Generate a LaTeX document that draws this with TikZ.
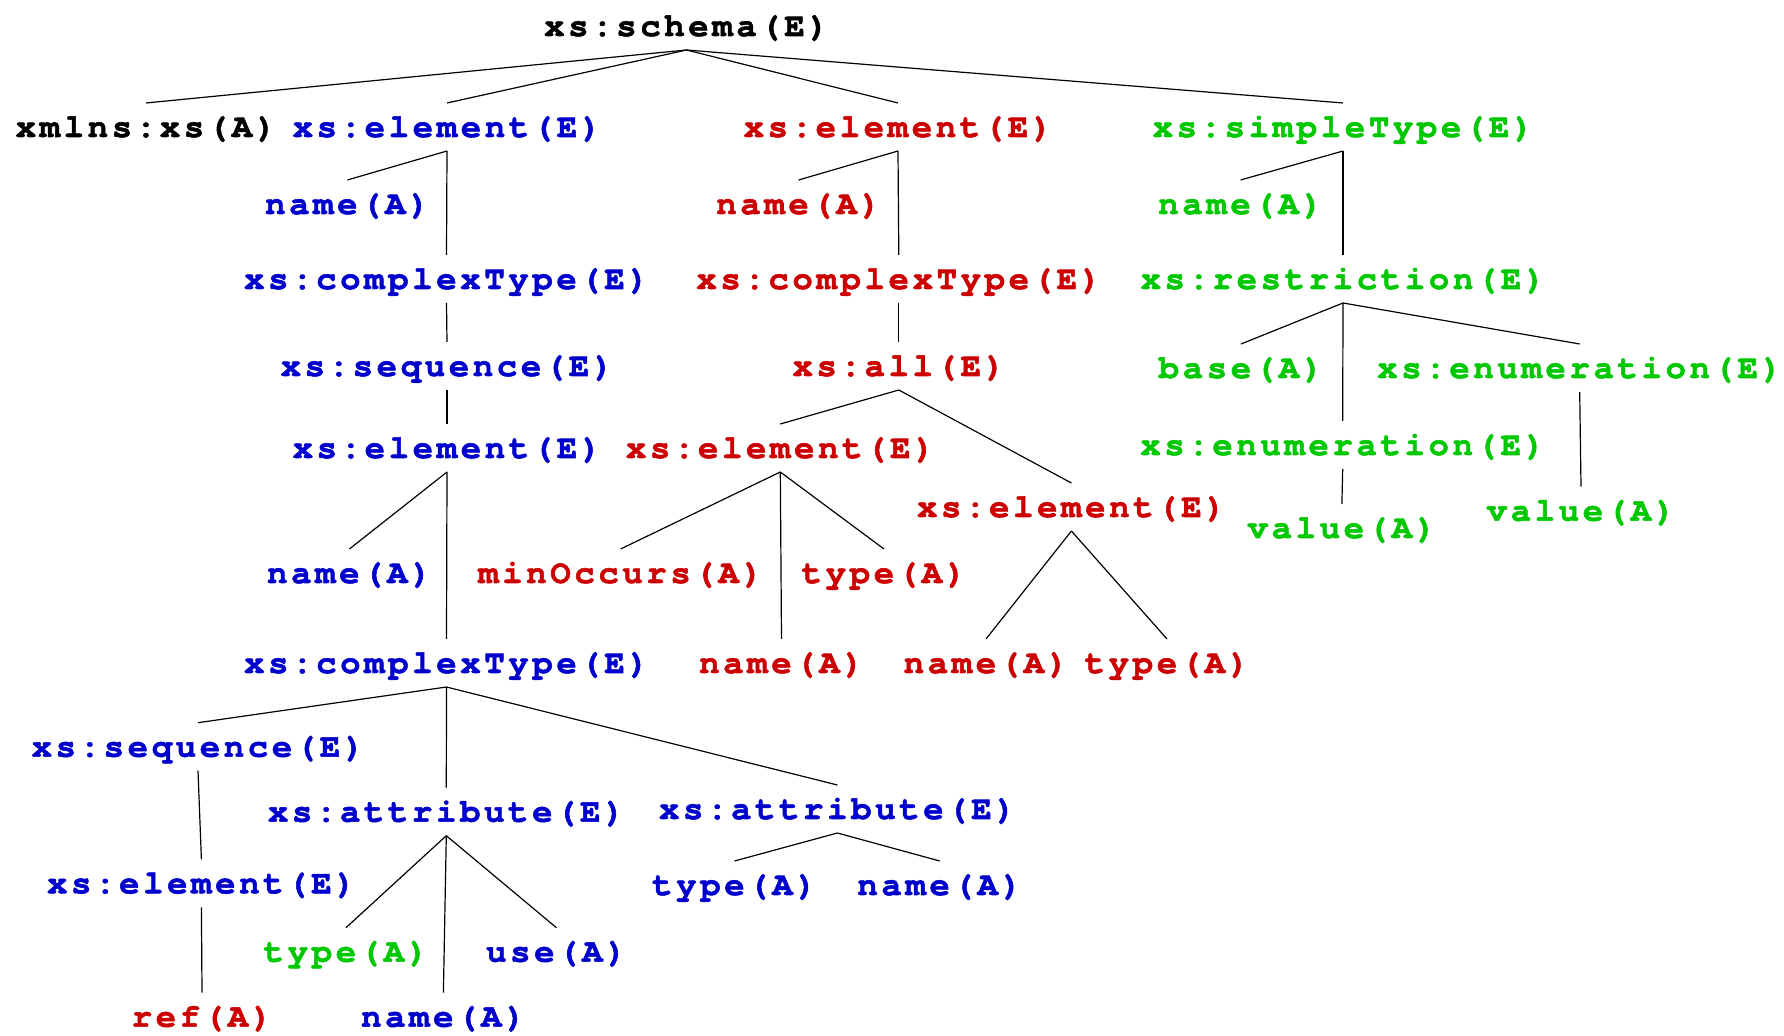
\documentclass[tikz,border=0pt]{standalone}
\usepackage{fontspec}
\newfontfamily\lab[LetterSpace=11,FakeBold=1.6,FakeStretch=1.03]{texgyrecursor-bold.otf}
\definecolor{cblue}{RGB}{0,0,204}
\definecolor{cred}{RGB}{204,0,0}
\definecolor{cgreen}{RGB}{0,200,0}
\begin{document}
\begin{tikzpicture}[x=0.5pt,y=-0.5pt,
  lbl/.style={font=\fontsize{16.5}{18}\lab, inner sep=0pt, outer sep=0pt,
    text height=17pt, text depth=7pt, anchor=base},
  bl/.style={lbl, text=cblue},
  rd/.style={lbl, text=cred},
  gr/.style={lbl, text=cgreen},
  bk/.style={lbl, text=black},
  edge/.style={draw=black, line width=0.6pt}]
\useasboundingbox (0,0) rectangle (1784,1036);
\fill[white] (0,0) rectangle (1784,1036);
% nodes
\node[bk] (schema) at (686.5,36) {xs:schema(E)};
\node[bk] (xmlns) at (146,137) {xmlns:xs(A)};
\node[bl] (el1) at (447,137) {xs:element(E)};
\node[rd] (el2) at (898,137) {xs:element(E)};
\node[gr] (st) at (1343,137) {xs:simpleType(E)};
\node[bl] (n1) at (347.4,214) {name(A)};
\node[rd] (n2) at (798.6,214) {name(A)};
\node[gr] (n3) at (1240.6,214) {name(A)};
\node[bl] (ct1) at (446.5,289) {xs:complexType(E)};
\node[rd] (ct2) at (898.8,289) {xs:complexType(E)};
\node[gr] (rs) at (1343,289) {xs:restriction(E)};
\node[bl] (sq1) at (447,376) {xs:sequence(E)};
\node[rd] (all) at (898.8,376) {xs:all(E)};
\node[gr] (base) at (1241,378) {base(A)};
\node[gr] (en1) at (1579.7,378) {xs:enumeration(E)};
\node[bl] (el3) at (447,458) {xs:element(E)};
\node[rd] (el4) at (780.3,458) {xs:element(E)};
\node[gr] (en2) at (1342.7,455) {xs:enumeration(E)};
\node[rd] (el5) at (1071.4,517) {xs:element(E)};
\node[gr] (v1) at (1341.9,538) {value(A)};
\node[gr] (v2) at (1581,520.7) {value(A)};
\node[bl] (n4) at (349.4,583) {name(A)};
\node[rd] (mo) at (620.6,583) {minOccurs(A)};
\node[rd] (ty1) at (884,583) {type(A)};
\node[bl] (ct3) at (446.5,673) {xs:complexType(E)};
\node[rd] (n5) at (781.5,673) {name(A)};
\node[rd] (n6) at (986,673) {name(A)};
\node[rd] (ty2) at (1167,673) {type(A)};
\node[bl] (sq2) at (198,756.7) {xs:sequence(E)};
\node[bl] (at1) at (446.3,821.7) {xs:attribute(E)};
\node[bl] (at2) at (837.4,819) {xs:attribute(E)};
\node[bl] (el6) at (201.4,893.3) {xs:element(E)};
\node[bl] (ty3) at (734.5,895) {type(A)};
\node[bl] (n7) at (939.7,895) {name(A)};
\node[gr] (ty4) at (346,961.7) {type(A)};
\node[bl] (us) at (556.4,961.7) {use(A)};
\node[rd] (rf) at (202,1026.7) {ref(A)};
\node[bl] (n8) at (443.4,1026.7) {name(A)};
% edges
\foreach \p/\c in {schema/xmlns, schema/el1, schema/el2, schema/st,
  el1/n1, el1/ct1, el2/n2, el2/ct2, st/n3, st/rs,
  ct1/sq1, sq1/el3, el3/n4, el3/ct3,
  ct2/all, all/el4, all/el5, el4/mo, el4/n5, el4/ty1, el5/n6, el5/ty2,
  rs/base, rs/en2, rs/en1, en2/v1, en1/v2,
  ct3/sq2, ct3/at1, ct3/at2, sq2/el6, el6/rf,
  at1/ty4, at1/n8, at1/us, at2/ty3, at2/n7}
  \draw[edge] (\p.south) -- (\c.north);
\end{tikzpicture}
\end{document}
